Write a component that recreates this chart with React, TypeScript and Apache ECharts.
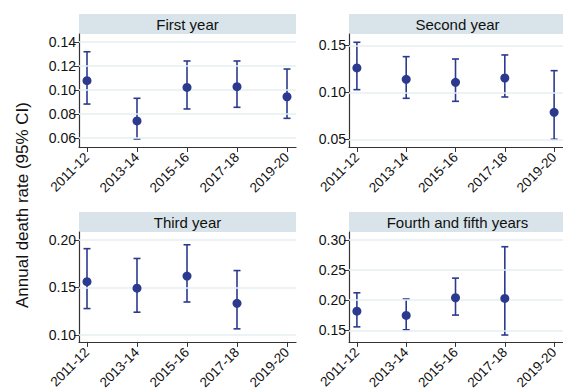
import React, { useEffect, useRef } from "react";
import * as echarts from "echarts";

const categories = ["2011-12", "2013-14", "2015-16", "2017-18", "2019-20"];

const panelTitles = ["First year", "Second year", "Third year", "Fourth and fifth years"];

const firstRate = [0.1078, 0.0742, 0.1022, 0.1028, 0.0944];
const firstLower = [0.0883, 0.0592, 0.0842, 0.0856, 0.0764];
const firstUpper = [0.1319, 0.0931, 0.1242, 0.1242, 0.1175];

const secondRate = [0.1259, 0.1138, 0.1106, 0.1152, 0.0787];
const secondLower = [0.1028, 0.0936, 0.0904, 0.095, 0.05];
const secondUpper = [0.1532, 0.1379, 0.1354, 0.1397, 0.123];

const thirdRate = [0.156, 0.1492, 0.1619, 0.1333, null];
const thirdLower = [0.1278, 0.124, 0.1347, 0.1065, null];
const thirdUpper = [0.1907, 0.1804, 0.1948, 0.1677, null];

const fourthRate = [0.1819, 0.1749, 0.2041, 0.203, null];
const fourthLower = [0.1559, 0.151, 0.1754, 0.1424, null];
const fourthUpper = [0.2123, 0.202, 0.2366, 0.2886, null];

const yTicks = [
  [0.06, 0.08, 0.1, 0.12, 0.14],
  [0.05, 0.1, 0.15],
  [0.1, 0.15, 0.2],
  [0.15, 0.2, 0.25, 0.3],
];
const yRanges = [
  [0.0525, 0.1467],
  [0.0418, 0.162],
  [0.0928, 0.2082],
  [0.131, 0.313],
];

const rates = [firstRate, secondRate, thirdRate, fourthRate];
const lowers = [firstLower, secondLower, thirdLower, fourthLower];
const uppers = [firstUpper, secondUpper, thirdUpper, fourthUpper];

const FONT = "'Liberation Sans', Arial, sans-serif";
const NAVY = "#2b3a8f";
const GRID_COLOR = "#e6eff2";
const BAR_COLOR = "#d8e4ea";

const layout = [
  { left: 79, top: 34, height: 113 },
  { left: 349, top: 34, height: 113 },
  { left: 79, top: 232, height: 112 },
  { left: 349, top: 232, height: 112 },
];
const PANEL_W = 217;
const BAR_H = 20;

export default function App() {
  const ref = useRef<HTMLDivElement>(null);
  useEffect(() => {
    document.body.style.margin = "0";
    if (!ref.current) return;
    const chart = echarts.init(ref.current, null, { renderer: "svg" });
    const catIdx = categories.map((_, i) => i);

    const grids = layout.map((l) => ({
      left: l.left,
      top: l.top,
      width: PANEL_W,
      height: l.height,
      show: true,
      backgroundColor: "#ffffff",
      borderWidth: 0,
    }));

    const xAxes = layout.map((_, i) => ({
      type: "value",
      gridIndex: i,
      min: -0.16,
      max: 4.18,
      axisLine: { show: true, onZero: false, lineStyle: { color: "#333", width: 1.2 } },
      axisTick: { show: true, length: 5, lineStyle: { color: "#333" }, customValues: catIdx },
      axisLabel: {
        customValues: catIdx,
        rotate: 45,
        margin: 8,
        fontSize: 13.5,
        color: "#111",
        fontFamily: FONT,
        formatter: (v: number) => categories[Math.round(v)] ?? "",
      },
      splitLine: { show: false },
    }));

    const yAxes = layout.map((_, i) => ({
      type: "value",
      gridIndex: i,
      min: yRanges[i][0],
      max: yRanges[i][1],
      axisLine: { show: true, onZero: false, lineStyle: { color: "#333", width: 1.2 } },
      axisTick: { show: true, length: 5, lineStyle: { color: "#333" }, customValues: yTicks[i] },
      axisLabel: {
        customValues: yTicks[i],
        margin: 3,
        fontSize: 14,
        color: "#111",
        fontFamily: FONT,
        formatter: (v: number) => v.toFixed(2),
      },
      splitLine: { show: false },
    }));

    const series: any[] = [];
    for (let i = 0; i < 4; i++) {
      const barData = catIdx
        .filter((k) => lowers[i][k] != null)
        .map((k) => [k, lowers[i][k], uppers[i][k]]);
      const pointData = catIdx
        .filter((k) => rates[i][k] != null)
        .map((k) => [k, rates[i][k]]);
      series.push({
        type: "line",
        xAxisIndex: i,
        yAxisIndex: i,
        data: [],
        silent: true,
        markLine: {
          silent: true,
          symbol: "none",
          label: { show: false },
          lineStyle: { color: GRID_COLOR, width: 1.5, type: "solid" },
          data: yTicks[i].map((t) => ({ yAxis: t })),
        },
      });
      series.push({
        type: "custom",
        xAxisIndex: i,
        yAxisIndex: i,
        data: barData,
        encode: { x: 0, y: [1, 2] },
        renderItem: (params: any, api: any) => {
          const x = api.value(0);
          const lo = api.coord([x, api.value(1)]);
          const hi = api.coord([x, api.value(2)]);
          const cap = 3.5;
          const style = { stroke: NAVY, lineWidth: 1.6 };
          return {
            type: "group",
            children: [
              { type: "line", shape: { x1: lo[0], y1: lo[1], x2: hi[0], y2: hi[1] }, style },
              { type: "line", shape: { x1: lo[0] - cap, y1: lo[1], x2: lo[0] + cap, y2: lo[1] }, style },
              { type: "line", shape: { x1: hi[0] - cap, y1: hi[1], x2: hi[0] + cap, y2: hi[1] }, style },
            ],
          };
        },
      });
      series.push({
        type: "scatter",
        xAxisIndex: i,
        yAxisIndex: i,
        data: pointData,
        symbol: "circle",
        symbolSize: 9,
        itemStyle: { color: NAVY, opacity: 1 },
        z: 5,
      });
    }

    const graphics: any[] = [];
    layout.forEach((l, i) => {
      graphics.push({
        type: "rect",
        shape: { x: l.left, y: l.top - BAR_H, width: PANEL_W, height: BAR_H },
        style: { fill: BAR_COLOR },
        silent: true,
      });
      graphics.push({
        type: "text",
        x: l.left + PANEL_W / 2,
        y: l.top - BAR_H / 2,
        style: {
          text: panelTitles[i],
          fontSize: 15,
          fontFamily: FONT,
          fill: "#111",
          align: "center",
          verticalAlign: "middle",
        },
        silent: true,
      });
    });
    graphics.push({
      type: "text",
      x: 22,
      y: 205,
      rotation: Math.PI / 2,
      style: {
        text: "Annual death rate (95% CI)",
        fontSize: 17,
        fontFamily: FONT,
        fill: "#111",
        align: "center",
        verticalAlign: "middle",
      },
      silent: true,
    });

    chart.setOption({
      animation: false,
      backgroundColor: "#ffffff",
      grid: grids,
      xAxis: xAxes,
      yAxis: yAxes,
      series,
      graphic: graphics,
    });
    return () => chart.dispose();
  }, []);
  return <div ref={ref} style={{ width: 563, height: 392 }} />;
}
